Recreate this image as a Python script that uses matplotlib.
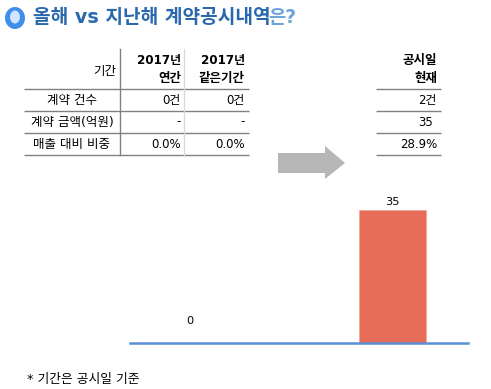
import matplotlib
matplotlib.use('Agg')
import matplotlib.pyplot as plt
from matplotlib.patches import Ellipse, Polygon

plt.rcParams['font.family'] = ['DejaVu Sans', 'Noto Sans CJK KR']

W, H = 491, 389

# Data
row_labels = ['계약 건수', '계약 금액(억원)', '매출 대비 비중']
col_2017_year = ['0건', '-', '0.0%']
col_2017_same = ['0건', '-', '0.0%']
col_current = ['2건', '35', '28.9%']
bar_positions = [0, 1]
bar_values = [0, 35]
bar_labels = ['0', '35']

fig = plt.figure(figsize=(W / 100, H / 100), dpi=100, facecolor='white')

# Overlay axes in pixel coordinates for the title and table
ov = fig.add_axes([0, 0, 1, 1])
ov.set_xlim(0, W)
ov.set_ylim(H, 0)
ov.axis('off')

# Title icon
ov.add_patch(Ellipse((15, 18), 20, 22, color='#3f8fe8', lw=0))
ov.add_patch(Ellipse((15, 17), 10, 13, color='#cfe5ff', lw=0))

# Title
ov.text(33, 17, '올해 vs 지난해 계약공시내역', fontsize=13.8, fontweight='bold',
        color='#2a68ad', ha='left', va='center')
ov.text(268, 17, '은?', fontsize=13.5, fontweight='bold',
        color='#6ea3d8', ha='left', va='center')

# Table rules
LINE = '#808080'
row_y = [89, 111, 133, 155]
for y in row_y:
    ov.plot([24, 249], [y, y], color=LINE, lw=1, solid_capstyle='butt')
    ov.plot([376, 441], [y, y], color=LINE, lw=1, solid_capstyle='butt')
ov.plot([120.5, 120.5], [49, 155], color=LINE, lw=1)
ov.plot([184.5, 184.5], [49, 155], color='#d9d9d9', lw=1)

# Table header
TXT = 9
ov.text(116, 71, '기간', fontsize=TXT, ha='right', va='center', color='black')
ov.text(181, 60, '2017년', fontsize=8.6, fontweight='bold', ha='right', va='center', color='black')
ov.text(181, 78, '연간', fontsize=TXT, fontweight='bold', ha='right', va='center', color='black')
ov.text(245, 60, '2017년', fontsize=8.6, fontweight='bold', ha='right', va='center', color='black')
ov.text(245, 78, '같은기간', fontsize=TXT, fontweight='bold', ha='right', va='center', color='black')
ov.text(437, 60, '공시일', fontsize=TXT, fontweight='bold', ha='right', va='center', color='black')
ov.text(437, 78, '현재', fontsize=TXT, fontweight='bold', ha='right', va='center', color='black')

# Table body
for i, label in enumerate(row_labels):
    y = row_y[i] + 11
    ov.text(72, y, label, fontsize=TXT, ha='center', va='center', color='black')
    ov.text(181, y, col_2017_year[i], fontsize=8.5, ha='right', va='center', color='black')
    ov.text(245, y, col_2017_same[i], fontsize=8.5, ha='right', va='center', color='black')
    ov.text(437 if i != 1 else 433, y, col_current[i], fontsize=8.5, ha='right', va='center', color='black')

# Arrow
ov.add_patch(Polygon([(278, 153), (325, 153), (325, 146), (345, 163),
                      (325, 179), (325, 173), (278, 173)],
                     closed=True, color='#b7b7b7', lw=0))

# Footnote
ov.text(27, 380, '* 기간은 공시일 기준', fontsize=9.2, ha='left', va='center', color='black')

# Bar chart: left/bottom/width/height from pixel box
left, right, top, bottom = 130, 468, 190, 342.5
ax = fig.add_axes([left / W, 1 - bottom / H, (right - left) / W, (bottom - top) / H])
ax.patch.set_alpha(0)
ax.bar(bar_positions, bar_values, width=67 / 202, color='#e76d58', edgecolor='#f0a79b', linewidth=0.6)
ax.set_xlim(-60 / 202, 1 + 76 / 202)
ax.set_ylim(0, 35 * (bottom - top) / (bottom - 210))
for s in ['top', 'left', 'right']:
    ax.spines[s].set_visible(False)
ax.spines['bottom'].set_color('#5b8fd6')
ax.spines['bottom'].set_linewidth(1.8)
ax.set_xticks([])
ax.set_yticks([])
for x, v, lab in zip(bar_positions, bar_values, bar_labels):
    dy = 16 if v == 0 else 3
    ax.annotate(lab, (x, v), xytext=(0, dy * 0.72), textcoords='offset points',
                ha='center', va='bottom', fontsize=8.2, color='black')

fig.savefig('out.png', dpi=100)
